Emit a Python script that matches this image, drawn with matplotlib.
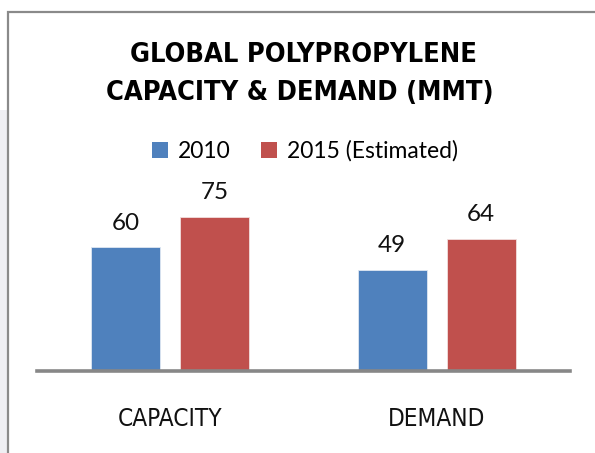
import matplotlib
matplotlib.use("Agg")
import matplotlib.pyplot as plt
from matplotlib.patches import Rectangle, Patch
import numpy as np

# ---- data ----
categories = ["CAPACITY", "DEMAND"]
series_names = ["2010", "2015 (Estimated)"]
values_2010 = [60, 49]
values_2015 = [75, 64]
title_lines = ["GLOBAL POLYPROPYLENE", "CAPACITY & DEMAND (MMT)"]

colors = ["#4F81BD", "#C0504D"]
narrow = ["DejaVu Sans"]
calib = ["Lato", "DejaVu Sans"]

W, H = 595, 453
fig = plt.figure(figsize=(W / 100, H / 100), dpi=100)
fig.patch.set_facecolor("white")

# faint slide background on the far left and chart border
fig.patches.append(Rectangle((0, 0), 8 / W, 1 - 110 / H, transform=fig.transFigure,
                             facecolor="#efeff3", edgecolor="none", zorder=-2))
fig.patches.append(Rectangle((8 / W, -0.1), 1.2, 1.1 - 12 / H, transform=fig.transFigure,
                             facecolor="white", edgecolor="#8a8a8a", linewidth=1.6, zorder=-1))

# axes placement (pixels -> fractions)
ax_left, ax_right = 37, 570
ax_bottom_px, ymax = 371, 80
px_per_unit = 2.06
ax = fig.add_axes([ax_left / W, 1 - ax_bottom_px / H, (ax_right - ax_left) / W,
                   ymax * px_per_unit / H])
ax.set_facecolor("none")

x = np.arange(len(categories))
width = 0.26
offset = 0.167
b1 = ax.bar(x - offset, values_2010, width, color=colors[0], edgecolor="#dfe7f2",
            linewidth=0.6, zorder=2)
b2 = ax.bar(x + offset, values_2015, width, color=colors[1], edgecolor="#f2dede",
            linewidth=0.6, zorder=2)
for bars in (b1, b2):
    ax.bar_label(bars, padding=10, fontsize=17.5, family=calib, color="#111111")

ax.set_xlim(-0.5, len(categories) - 0.5)
ax.set_ylim(0, ymax)
for s in ["left", "right", "top"]:
    ax.spines[s].set_visible(False)
ax.spines["bottom"].set_color("#878787")
ax.spines["bottom"].set_linewidth(2.6)
ax.spines["bottom"].set_zorder(3)
ax.set_yticks([])
ax.set_xticks(x)
ax.set_xticklabels(categories, family=narrow, fontstretch="condensed", fontsize=17.5,
                   color="#111111")
ax.tick_params(axis="x", length=0, pad=26)

# title
fig.text(303 / W, 1 - 62 / H, title_lines[0], ha="center", va="baseline",
         family=narrow, fontstretch="condensed", fontsize=19.5, fontweight="bold",
         color="#000000")
fig.text(300 / W, 1 - 100 / H, title_lines[1], ha="center", va="baseline",
         family=narrow, fontstretch="condensed", fontsize=19.5, fontweight="bold",
         color="#000000")

# legend
handles = [Patch(facecolor=c, edgecolor="none") for c in colors]
fig.legend(handles, series_names, loc="center", bbox_to_anchor=(305 / W, 1 - 151 / H),
           ncol=2, frameon=False, prop={"family": calib, "size": 16.5},
           handlelength=0.7, handleheight=0.7, handletextpad=0.4,
           columnspacing=1.35, borderpad=0, borderaxespad=0)

fig.savefig("out.png", dpi=100, facecolor="white")
